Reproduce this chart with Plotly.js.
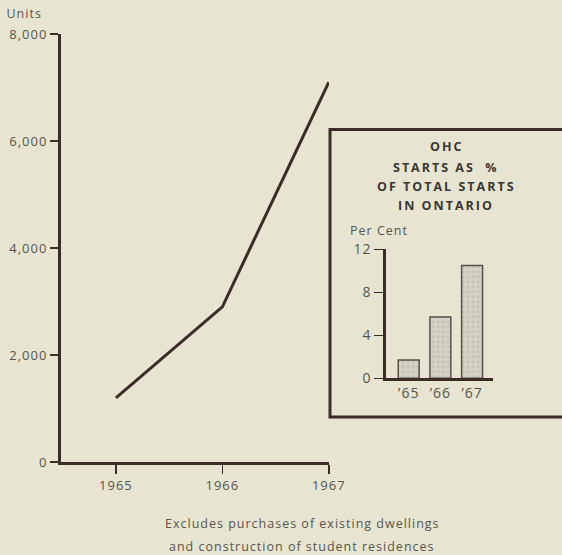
<!DOCTYPE html>
<html>
<head>
<meta charset="utf-8">
<script src="https://cdn.plot.ly/plotly-3.0.1.min.js"></script>
<style>html,body{margin:0;padding:0;background:#e7e5d1;}#chart{width:562px;height:555px;}
#chart text{letter-spacing:1px;}</style>
</head>
<body>
<div id="chart"></div>
<script>
// Main chart: OHC units
const years = [1965, 1966, 1967];
const units = [1200, 2900, 7100];
const yTicks = [0, 2000, 4000, 6000, 8000];

// Inset: OHC starts as % of total starts in Ontario
const insetCats = ["\u201965", "\u201966", "\u201967"];
const insetPct = [1.7, 5.7, 10.5];
const insetTicks = [0, 4, 8, 12];

const ink = '#3b2c29';
const txt = '#57544d';
const bg = '#e7e5d1';
const W = 562, H = 555;
const px = v => v / W, py = v => (H - v) / H;
const fam = '"Open Sans", Lato, sans-serif';

const traces = [
  {x: years, y: units, type: 'scatter', mode: 'lines',
   line: {color: ink, width: 3}, xaxis: 'x', yaxis: 'y', hoverinfo: 'skip'},
  {x: insetCats, y: insetPct, type: 'bar', width: 0.66,
   marker: {color: '#d2d1c4', line: {color: '#5a4e4a', width: 1.5},
            pattern: {shape: '.', fgcolor: '#bdbcb1', bgcolor: '#d4d3c6', size: 5, solidity: 0.2}},
   xaxis: 'x2', yaxis: 'y2', hoverinfo: 'skip'}
];

const tf = {family: fam, size: 13, color: txt};
const tf2 = {family: fam, size: 14, color: txt};
const titleLine = (t, y) => ({text: '<b>' + t + '</b>', xref: 'paper', yref: 'paper', x: px(446), y: py(y),
  xanchor: 'center', yanchor: 'middle', showarrow: false, font: {family: fam, size: 12.5, color: '#3a3632'}});

const layout = {
  width: W, height: H,
  paper_bgcolor: bg, plot_bgcolor: 'rgba(0,0,0,0)',
  margin: {l: 0, r: 0, t: 0, b: 0},
  showlegend: false,
  font: tf,
  xaxis: {domain: [px(61), px(329)], range: [1964.484, 1967.002], tickvals: years,
          ticktext: years.map(String), showgrid: false, zeroline: false,
          showline: true, linecolor: ink, linewidth: 3,
          ticks: 'outside', ticklen: 9, tickwidth: 1.5, tickcolor: ink,
          tickfont: tf, fixedrange: true},
  yaxis: {domain: [py(462), py(34)], range: [0, 8000], tickvals: yTicks,
          tickformat: ',d', showgrid: false, zeroline: false,
          showline: true, linecolor: ink, linewidth: 3,
          ticks: 'outside', ticklen: 8, tickwidth: 1.5, tickcolor: ink,
          tickfont: tf, fixedrange: true},
  xaxis2: {domain: [px(385.7), px(493.3)], range: [-0.726, 2.67], type: 'category',
           anchor: 'y2', showgrid: false, zeroline: false,
           showline: true, linecolor: ink, linewidth: 2.5, ticks: '',
           tickfont: tf2, fixedrange: true},
  yaxis2: {domain: [py(378.3), py(249.3)], range: [0, 12], tickvals: insetTicks,
           anchor: 'x2', showgrid: false, zeroline: false,
           showline: true, linecolor: ink, linewidth: 2.5,
           ticks: 'outside', ticklen: 9, tickwidth: 1.5, tickcolor: ink,
           tickfont: tf2, fixedrange: true},
  shapes: [
    {type: 'rect', xref: 'paper', yref: 'paper', x0: px(330), x1: 1.02, y0: py(417), y1: py(129.5),
     line: {color: ink, width: 3}, fillcolor: 'rgba(0,0,0,0)', layer: 'below'}
  ],
  annotations: [
    {text: 'Units', xref: 'paper', yref: 'paper', x: px(7), y: py(14), xanchor: 'left', yanchor: 'middle',
     showarrow: false, font: {family: fam, size: 12.5, color: txt}},
    {text: 'Excludes purchases of existing dwellings', xref: 'paper', yref: 'paper',
     x: px(302), y: py(523), xanchor: 'center', yanchor: 'middle', showarrow: false,
     font: {family: fam, size: 12.5, color: txt}},
    {text: 'and construction of student residences', xref: 'paper', yref: 'paper',
     x: px(302), y: py(546), xanchor: 'center', yanchor: 'middle', showarrow: false,
     font: {family: fam, size: 12.5, color: txt}},
    titleLine('<span style="letter-spacing:2px">OHC</span>', 147),
    titleLine('<span style="letter-spacing:2px">STARTS AS  %</span>', 167),
    titleLine('<span style="letter-spacing:2px">OF TOTAL STARTS</span>', 186),
    titleLine('<span style="letter-spacing:2px">IN ONTARIO</span>', 205),
    {text: 'Per Cent', xref: 'paper', yref: 'paper', x: px(352), y: py(230), xanchor: 'left', yanchor: 'middle',
     showarrow: false, font: {family: fam, size: 12.5, color: txt}}
  ]
};

Plotly.newPlot('chart', traces, layout, {staticPlot: true, displayModeBar: false});
</script>
</body>
</html>
